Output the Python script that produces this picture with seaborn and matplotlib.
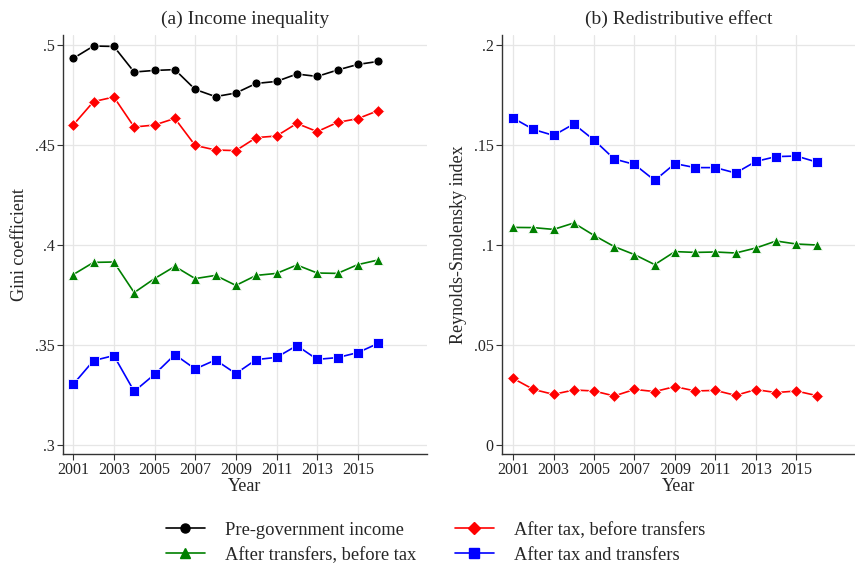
import numpy as np
import pandas as pd
import seaborn as sns
import matplotlib.pyplot as plt
from matplotlib.ticker import FixedLocator

years = list(range(2001, 2017))
series_names = [
    "Pre-government income",
    "After tax, before transfers",
    "After transfers, before tax",
    "After tax and transfers",
]

# (a) Gini coefficients
gini_pre = [.4933, .4995, .4993, .4865, .4873, .4877, .4778, .4742,
            .4760, .4808, .4818, .4855, .4843, .4875, .4903, .4918]
gini_tax = [.4600, .4717, .4740, .4590, .4600, .4633, .4498, .4475,
            .4472, .4537, .4545, .4608, .4567, .4613, .4632, .4672]
gini_transfers = [.3852, .3913, .3915, .3762, .3832, .3893, .3832, .3848,
                  .3798, .3848, .3858, .3900, .3860, .3858, .3902, .3925]
gini_both = [.3303, .3422, .3447, .3268, .3353, .3452, .3380, .3425,
             .3357, .3427, .3438, .3497, .3428, .3437, .3462, .3508]

# (b) Reynolds-Smolensky index
rs_tax = [.0333, .0278, .0253, .0275, .0270, .0245, .0278, .0267,
          .0292, .0270, .0273, .0248, .0277, .0262, .0270, .0247]
rs_transfers = [.1088, .1087, .1078, .1110, .1048, .0992, .0952, .0902,
                .0967, .0963, .0965, .0960, .0985, .1020, .1005, .1000]
rs_both = [.1635, .1578, .1548, .1605, .1525, .1430, .1403, .1323,
           .1407, .1387, .1387, .1360, .1418, .1442, .1445, .1415]

gini_ticks = [.3, .35, .4, .45, .5]
gini_labels = [".3", ".35", ".4", ".45", ".5"]
rs_ticks = [0, .05, .1, .15, .2]
rs_labels = ["0", ".05", ".1", ".15", ".2"]
x_ticks = [2001, 2003, 2005, 2007, 2009, 2011, 2013, 2015]

colors = {series_names[0]: "black", series_names[1]: "red",
          series_names[2]: "green", series_names[3]: "blue"}
markers = {series_names[0]: "o", series_names[1]: "D",
           series_names[2]: "^", series_names[3]: "s"}


def long_frame(cols):
    parts = []
    for name, vals in cols.items():
        parts.append(pd.DataFrame({"Year": years, "value": vals, "series": name}))
    return pd.concat(parts, ignore_index=True)


df_gini = long_frame({series_names[0]: gini_pre, series_names[1]: gini_tax,
                      series_names[2]: gini_transfers, series_names[3]: gini_both})
df_rs = long_frame({series_names[1]: rs_tax, series_names[2]: rs_transfers,
                    series_names[3]: rs_both})

sns.set_theme(style="white")
plt.rcParams["font.family"] = ["Liberation Serif", "DejaVu Serif"]

fig = plt.figure(figsize=(8.55, 5.65), dpi=100)
ax1 = fig.add_axes([0.0737, 0.1965, 0.4257, 0.7415])
ax2 = fig.add_axes([0.5871, 0.1965, 0.4129, 0.7415])


def draw(ax, df, title, ylabel, ticks, labels, ylim, xlim):
    sns.lineplot(data=df, x="Year", y="value", hue="series", style="series",
                 palette=colors, markers=markers, dashes=False,
                 markersize=6.5, markeredgewidth=0.6, linewidth=1.2,
                 ax=ax, legend=False, zorder=3)
    ax.set_xlim(*xlim)
    ax.set_ylim(*ylim)
    ax.xaxis.set_major_locator(FixedLocator(x_ticks))
    ax.set_xticklabels([str(x) for x in x_ticks])
    ax.yaxis.set_major_locator(FixedLocator(ticks))
    ax.set_yticklabels(labels)
    ax.grid(True, color="#e6e6e6", linewidth=0.9)
    ax.set_axisbelow(True)
    for s in ["top", "right"]:
        ax.spines[s].set_visible(False)
    for s in ["left", "bottom"]:
        ax.spines[s].set_color("#333333")
        ax.spines[s].set_linewidth(1.0)
    ax.tick_params(axis="both", direction="out", length=4, width=0.8,
                   color="#333333", labelsize=11.5, pad=2,
                   bottom=True, left=True)
    ax.set_title(title, fontsize=14, pad=8)
    ax.set_xlabel("Year", fontsize=13, labelpad=0)
    ax.set_ylabel(ylabel, fontsize=13, labelpad=5)


draw(ax1, df_gini, "(a) Income inequality", "Gini coefficient",
     gini_ticks, gini_labels, (.2955, .505), (2000.5, 2018.4))
draw(ax2, df_rs, "(b) Redistributive effect", "Reynolds-Smolensky index",
     rs_ticks, rs_labels, (-.0045, .205), (2000.45, 2017.9))

handles = [plt.Line2D([], [], color=colors[n], marker=markers[n], markersize=6.5,
                      linewidth=1.2) for n in series_names]
order = [0, 2, 1, 3]
fig.legend([handles[i] for i in order], [series_names[i] for i in order],
           loc="lower center", bbox_to_anchor=(0.5095, -0.027), ncol=2, frameon=False,
           fontsize=13.3, handlelength=2.1, columnspacing=2.1, labelspacing=0.42,
           handletextpad=1.1)

fig.savefig("out.png", dpi=100)
